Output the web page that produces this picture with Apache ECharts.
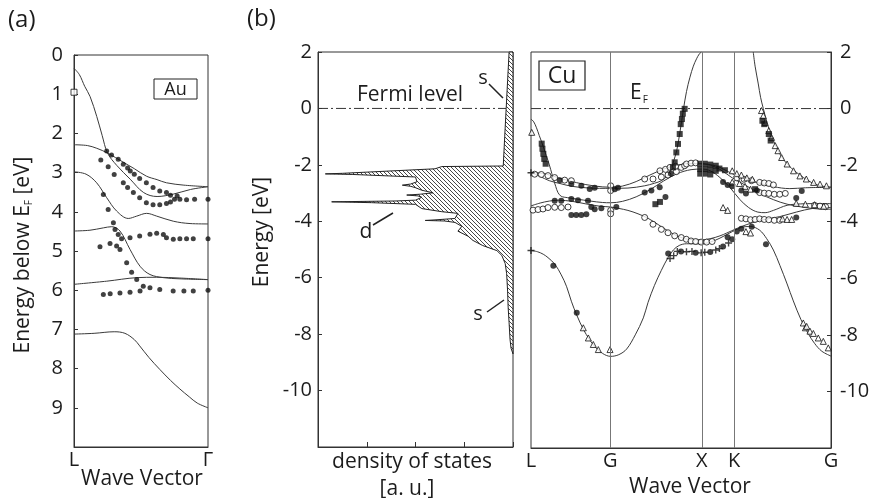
<!DOCTYPE html>
<html><head><meta charset="utf-8">
<script src="https://cdn.jsdelivr.net/npm/echarts@6/dist/echarts.min.js"></script>
<style>html,body{margin:0;padding:0;background:#fff}#c{width:879px;height:498px}</style>
</head><body><div id="c"></div>
<script>
// ---------- (a) Au bands: [wave vector (L=0..Γ=1), energy below EF] ----------
const auBandA = [[0,0.34],[0.04,0.5],[0.08,0.8],[0.12,1.06],[0.17,1.57],[0.21,2.05],[0.25,2.5],[0.32,2.82],[0.42,3.17],[0.52,3.51],[0.62,3.61],[0.74,3.55],[0.87,3.43],[1,3.36]];
const auBandB = [[0,2.29],[0.1,2.31],[0.17,2.38],[0.25,2.5],[0.37,2.74],[0.45,2.9],[0.54,3.09],[0.62,3.18],[0.69,3.26],[0.82,3.32],[1,3.36]];
const auBandC = [[0,2.98],[0.09,3.04],[0.169,3.26],[0.244,3.64],[0.318,3.98],[0.405,4.17],[0.468,4.11],[0.542,4.04],[0.617,4.11],[0.741,4.24],[0.866,4.3],[1,4.31]];
const auBandD = [[0,4.49],[0.119,4.47],[0.219,4.41],[0.281,4.38],[0.343,4.49],[0.418,4.96],[0.493,5.39],[0.567,5.6],[0.667,5.68],[0.791,5.71],[1,5.73]];
const auBandE = [[0,5.85],[0.244,5.77],[0.468,5.68],[0.617,5.67],[0.79,5.69],[1,5.73]];
const auBandF = [[0,7.12],[0.15,7.1],[0.3,7.06],[0.38,7.1],[0.45,7.26],[0.49,7.42],[0.56,7.72],[0.64,8.02],[0.72,8.3],[0.79,8.52],[0.86,8.72],[0.92,8.88],[1,9.0]];
const auDots = [
 [0.244,2.45],[0.28,2.55],[0.33,2.66],[0.368,2.79],[0.4,2.88],[0.42,2.96],[0.45,3.04],[0.49,3.15],[0.54,3.26],[0.59,3.38],[0.64,3.47],[0.69,3.51],[0.72,3.58],[0.77,3.6],[0.79,3.68],[0.84,3.69],[0.9,3.68],[1.0,3.68],
 [0.2,2.68],[0.255,2.85],[0.3,3.05],[0.368,3.26],[0.4,3.38],[0.443,3.51],[0.49,3.64],[0.54,3.77],[0.59,3.82],[0.64,3.82],[0.69,3.79],[0.72,3.75],[0.75,3.68],
 [0.219,3.56],[0.255,3.94],[0.294,4.28],
 [0.306,4.45],[0.33,4.58],[0.355,4.69],[0.418,4.66],[0.49,4.62],[0.567,4.57],[0.617,4.55],[0.667,4.58],[0.69,4.66],[0.741,4.7],[0.79,4.69],[0.84,4.69],[0.89,4.69],[1.0,4.69],
 [0.194,4.89],[0.269,4.81],[0.318,4.87],[0.343,4.96],[0.393,5.3],[0.43,5.54],[0.468,5.73],[0.517,5.9],[0.567,5.94],[0.64,5.98],[0.74,6.02],[0.82,6.02],[0.89,6.02],[1.0,6.0],
 [0.219,6.11],[0.27,6.09],[0.343,6.07],[0.418,6.05],[0.493,6.02]
];
const auOpenSquare = [[0,0.95]];
const auTickLabels = ['L','Γ'];

// ---------- (b) DOS: energy (eV) and density of states (a.u.) ----------
const dosE = [2,1,0,-1,-2.04,-2.06,-2.14,-2.3,-2.32,-2.34,-2.43,-2.6,-2.68,-2.72,-2.76,-2.81,-2.9,-2.99,-3.04,-3.07,-3.1,-3.15,-3.25,-3.28,-3.31,-3.34,-3.4,-3.55,-3.66,-3.72,-3.9,-3.95,-3.97,-3.99,-4.04,-4.18,-4.35,-4.53,-4.68,-4.86,-5.04,-5.21,-5.5,-5.86,-6.5,-7.04,-7.6,-8.2,-8.5,-8.7];
const dosV = [0.08,0.11,0.14,0.17,0.2,1.46,1.6,3.5,3.85,3.3,2.0,1.97,2.1,2.27,2.1,2.0,1.87,1.64,1.9,2.18,1.95,1.87,2.0,2.4,3.72,2.9,2.0,1.87,1.46,1.13,1.19,1.6,1.8,1.4,1.19,1.05,1.13,0.92,0.82,0.62,0.33,0.23,0.16,0.13,0.11,0.1,0.08,0.06,0.04,0.0];
const fermiDos = [[4,0],[0.14,0]];

// ---------- Cu bands: [wave vector (L=0, G=0.866, X=1.866, K=2.22, G=3.28), energy eV] ----------
const cuTickPos = [0,0.866,1.866,2.22,3.28];
const cuTickLabels = ['L','G','X','K','G'];
const cuSymLines = [0.866,1.866,2.22];
const cuBand1 = [[0,-5.02],[0.07,-5.06],[0.134,-5.15],[0.186,-5.27],[0.26,-5.5],[0.331,-5.88],[0.39,-6.3],[0.441,-6.81],[0.5,-7.3],[0.58,-7.85],[0.681,-8.35],[0.78,-8.65],[0.871,-8.76],[0.96,-8.7],[1.046,-8.5],[1.14,-8.0],[1.228,-7.4],[1.28,-6.85],[1.35,-6.25],[1.425,-5.72],[1.498,-5.27],[1.556,-5.0],[1.62,-4.84],[1.7,-4.78],[1.862,-4.78],[1.96,-4.72],[2.066,-4.58],[2.2,-4.35],[2.3,-4.2],[2.4,-4.17],[2.5,-4.3],[2.577,-4.6],[2.65,-5.0],[2.722,-5.55],[2.8,-6.2],[2.868,-6.8],[2.95,-7.45],[3.03,-7.95],[3.1,-8.3],[3.18,-8.58],[3.28,-8.75]];
const cuBand2 = [[0,-3.44],[0.1,-3.34],[0.2,-3.27],[0.3,-3.24],[0.45,-3.28],[0.6,-3.37],[0.75,-3.45],[0.871,-3.48],[0.96,-3.53],[1.06,-3.6],[1.17,-3.72],[1.28,-3.88],[1.39,-4.1],[1.5,-4.33],[1.61,-4.52],[1.716,-4.62],[1.862,-4.64],[1.96,-4.6],[2.066,-4.5],[2.14,-4.4],[2.25,-4.24],[2.36,-4.1],[2.54,-3.93],[2.72,-3.82],[2.9,-3.66],[3.08,-3.53],[3.28,-3.5]];
const cuBand3 = [[0,-0.37],[0.03,-0.47],[0.06,-0.68],[0.09,-0.95],[0.113,-1.15],[0.15,-1.5],[0.186,-1.84],[0.215,-2.15],[0.24,-2.44],[0.27,-2.75],[0.295,-2.97],[0.33,-3.1],[0.4,-3.15],[0.5,-3.2],[0.65,-3.27],[0.78,-3.32],[0.871,-3.33],[1.0,-3.28],[1.15,-3.12],[1.3,-2.87],[1.45,-2.56],[1.6,-2.3],[1.75,-2.16],[1.862,-2.14],[1.96,-2.2],[2.066,-2.44],[2.175,-2.79],[2.285,-3.22],[2.38,-3.5],[2.48,-3.66],[2.56,-3.68],[2.65,-3.6],[2.8,-3.42],[2.95,-3.37],[3.1,-3.36],[3.28,-3.36]];
const cuBand4 = [[0,-2.26],[0.15,-2.3],[0.3,-2.45],[0.5,-2.62],[0.7,-2.74],[0.871,-2.78],[1.0,-2.74],[1.15,-2.58],[1.3,-2.35],[1.45,-2.14],[1.6,-2.0],[1.75,-1.95],[1.862,-1.95],[1.96,-1.98],[2.066,-2.08],[2.25,-2.38],[2.47,-2.61],[2.65,-2.76],[2.83,-2.83],[3.0,-2.8],[3.28,-2.78]];
const cuBand5 = [[0,-2.26],[0.1,-2.4],[0.2,-2.55],[0.317,-2.65],[0.45,-2.75],[0.6,-2.8],[0.75,-2.82],[0.871,-2.82],[1.06,-2.81],[1.243,-2.73],[1.35,-2.64],[1.425,-2.55],[1.49,-2.38],[1.53,-2.15],[1.565,-1.8],[1.593,-1.49],[1.63,-0.8],[1.665,-0.06],[1.7,0.6],[1.738,1.11],[1.775,1.5],[1.81,1.76],[1.84,1.93],[1.862,2.0]];
const cuBand6 = [[1.862,-1.95],[1.96,-2.0],[2.066,-2.15],[2.2,-2.45],[2.35,-2.72],[2.5,-3.0],[2.65,-3.22],[2.8,-3.38],[3.0,-3.5],[3.15,-3.55],[3.28,-3.56]];
const cuBand7 = [[2.43,2.0],[2.45,1.5],[2.485,0.87],[2.51,0.4],[2.54,0.0],[2.59,-0.6],[2.65,-1.13],[2.72,-1.6],[2.8,-1.96],[2.9,-2.25],[2.98,-2.44],[3.07,-2.62],[3.16,-2.73],[3.28,-2.78]];
const cuFermi = [[0,0],[3.28,0]];

// Cu experimental points
const cuSquares = [[0.117,-1.24],[0.125,-1.42],[0.135,-1.6],[0.145,-1.78],[0.16,-1.95],
 [1.552,-2.08],[1.571,-1.9],[1.589,-1.55],[1.607,-1.25],[1.626,-0.9],[1.637,-0.55],[1.65,-0.37],[1.66,-0.18],[1.68,-0.01],
 [1.85,-1.95],[1.9,-1.95],[1.96,-1.98],[2.02,-2.02],[1.85,-2.14],[1.9,-2.14],[1.96,-2.16],[2.02,-2.2],[1.85,-2.3],[1.9,-2.3],[1.96,-2.33],[2.06,-2.12],[2.12,-2.18],
 [2.53,-0.43],[2.55,-0.55],[2.6,-0.9],[2.62,-1.13],[2.45,-2.85],[1.36,-3.38],[1.41,-3.3]];
const cuTriangles = [[0.008,-0.84],
 [2.52,-0.07],[2.54,-0.25],[2.56,-0.49],[2.6,-0.78],[2.63,-1.02],[2.67,-1.31],[2.7,-1.49],[2.74,-1.73],[2.8,-1.96],[2.87,-2.2],[2.94,-2.38],[3.01,-2.49],[3.09,-2.61],[3.16,-2.67],[3.23,-2.73],
 [0.572,-7.75],[0.627,-8.11],[0.681,-8.34],[0.736,-8.52],[0.864,-8.52],
 [2.977,-7.58],[3.0,-7.75],[3.014,-7.7],[3.05,-7.87],[3.087,-7.95],[3.141,-8.11],[3.196,-8.23],[3.25,-8.46],
 [2.2,-2.2],[2.25,-2.3],[2.3,-2.35],[2.36,-2.45],[2.42,-2.5],[2.2,-2.6],[2.28,-2.65],[2.34,-2.75],[2.4,-2.85],[2.1,-3.5],[2.15,-3.6],
 [2.9,-3.35],[3.0,-3.38],[3.1,-3.4],[3.2,-3.45],[2.75,-3.9],[2.8,-3.92],[2.85,-3.92],[2.35,-4.35],[2.4,-4.4]];
const cuOpenCircles = [[0.04,-2.32],[0.113,-2.33],[0.186,-2.37],[0.259,-2.44],[0.368,-2.53],[0.441,-2.55],
 [0.871,-2.73],[0.871,-2.9],
 [0.022,-3.59],[0.077,-3.57],[0.131,-3.55],[0.186,-3.5],[0.259,-3.49],[0.331,-3.5],[0.405,-3.48],
 [0.871,-3.6],[0.871,-3.72],
 [1.243,-2.49],[1.334,-2.49],[1.425,-2.42],[1.498,-2.35],[1.589,-2.23],[1.643,-2.08],[1.68,-2.02],
 [1.243,-3.85],[1.334,-4.09],[1.425,-4.27],[1.498,-4.39],[1.571,-4.5],[1.643,-4.56],[1.698,-4.62],
 [1.41,-2.2],[1.47,-2.15],[1.52,-2.08],[1.58,-2.04],[1.7,-1.96],[1.75,-1.93],[1.8,-1.92],
 [1.75,-4.68],[1.8,-4.7],[1.86,-4.72],[1.92,-4.72],[1.98,-4.7],
 [2.25,-2.45],[2.33,-2.5],[2.41,-2.55],[2.5,-2.61],[2.55,-2.63],[2.6,-2.65],[2.65,-2.7],
 [2.5,-2.97],[2.55,-2.99],[2.6,-3.0],[2.66,-3.03],[2.72,-3.03],[2.78,-3.0],
 [2.3,-3.88],[2.35,-3.9],[2.4,-3.93],[2.45,-3.92],[2.5,-3.9],[2.55,-3.92],[2.6,-3.93],[2.66,-3.95],[2.72,-3.95],
 [3.1,-3.42],[3.16,-3.45],[3.22,-3.47]];
const cuFilledCircles = [[0.314,-2.53],[0.441,-2.67],[0.55,-2.73],[0.642,-2.84],[0.696,-2.8],[0.915,-2.85],[0.951,-2.8],
 [0.259,-3.26],[0.331,-3.26],[0.441,-3.2],[0.514,-3.24],[0.623,-3.26],[0.659,-3.48],[0.696,-3.56],[0.769,-3.52],[0.933,-3.48],
 [0.441,-3.76],[0.495,-3.76],[0.55,-3.76],[0.605,-3.74],
 [1.243,-2.97],[1.316,-2.9],[1.407,-2.78],[1.47,-3.13],[1.53,-2.3],
 [0.244,-5.56],[0.5,-7.22],
 [1.5,-5.12],[1.64,-5.05],[1.8,-5.1],[1.96,-5.07],[2.1,-4.88],[2.2,-4.62],
 [2.15,-4.55],[2.25,-4.35],[2.3,-4.25],[2.413,-4.18],[2.569,-4.8],
 [2.47,-2.9],[2.96,-2.91],[2.9,-3.16],[2.9,-3.85],[2.1,-2.6],[2.15,-2.7],[2.2,-2.75],[2.3,-2.9],[2.35,-3.0]];
const cuCrosses = [[0,-2.27],[0,-5.02],[1.52,-5.3],[1.56,-5.2],[1.6,-5.05],[1.7,-5.06],[1.76,-5.05],[1.86,-5.1],[1.9,-5.08],[2.02,-5.0],[2.06,-4.95],[2.16,-4.75]];

// ---------- build ----------
const FONT = 'Open Sans';
const INK = '#1c1c1c';
const LINE = '#3a3a3a';

function hatchCanvas(){
  const c = document.createElement('canvas'); c.width = 4; c.height = 4;
  const g = c.getContext('2d');
  g.fillStyle = '#fff'; g.fillRect(0,0,4,4);
  g.strokeStyle = '#474747'; g.lineWidth = 1;
  g.beginPath();
  g.moveTo(0,0); g.lineTo(4,4);
  g.moveTo(-1,3); g.lineTo(1,5);
  g.moveTo(3,-1); g.lineTo(5,1);
  g.stroke();
  return c;
}
const hatch = hatchCanvas();

function band(data, gi){
  return {type:'line', xAxisIndex:gi, yAxisIndex:gi, data, showSymbol:false, smooth:0.35,
    lineStyle:{color:LINE, width:1}, silent:true, z:2};
}
function pts(data, gi, symbol, size, filled){
  return {type:'scatter', xAxisIndex:gi, yAxisIndex:gi, data, symbol, symbolSize:size, silent:true, z:4,
    itemStyle: filled ? {color:'#111'} : {color:'#fff', borderColor:'#111', borderWidth:1}};
}
// dash-dot reference line through two data points
function dashDot(data, gi){
  return {type:'custom', xAxisIndex:gi, yAxisIndex:gi, data:[[0,0]], silent:true, z:1,
    renderItem:(params, api)=>{
      if (params.dataIndex !== 0) return;
      const a = api.coord(data[0]), b = api.coord(data[1]);
      return {type:'line', shape:{x1:a[0], y1:a[1], x2:b[0], y2:b[1]},
        style:{stroke:'#333', lineWidth:1, lineDash:[10,3,2,3]}};
    }};
}
const axisLabelStyle = {fontFamily:FONT, fontSize:20, color:INK};
const T = 21;
const axLine = {onZero:false, lineStyle:{color:'#333'}};

const series = [];
[auBandA,auBandB,auBandC,auBandD,auBandE,auBandF].forEach(b=>series.push(band(b,0)));
series.push(pts(auDots,0,'circle',5,true));
series.push(pts(auOpenSquare,0,'rect',6,false));

series.push({type:'custom', xAxisIndex:1, yAxisIndex:1, data:[[0,0]], silent:true, z:2,
  renderItem:(params, api)=>{
    if (params.dataIndex !== 0) return;
    const p = [];
    for (let i=0;i<dosE.length;i++) p.push(api.coord([dosV[i], dosE[i]]));
    p.push(api.coord([0, dosE[dosE.length-1]]));
    p.push(api.coord([0, dosE[0]]));
    return {type:'polygon', shape:{points:p}, style:{fill:{image:hatch, repeat:'repeat'}, stroke:'#222', lineWidth:1}};
  }});
series.push(dashDot(fermiDos,1));

series.push(dashDot(cuFermi,2));
series.push({type:'line', xAxisIndex:2, yAxisIndex:2, data:[], showSymbol:false, silent:true, z:1,
  markLine:{silent:true, symbol:['none','none'], label:{show:false}, animation:false,
    lineStyle:{color:'#777', width:1, type:'solid'},
    data: cuSymLines.map(v=>({xAxis:v}))}});
[cuBand1,cuBand2,cuBand3,cuBand4,cuBand5,cuBand6,cuBand7].forEach(b=>series.push(band(b,2)));
series.push(pts(cuOpenCircles,2,'circle',6,false));
series.push(pts(cuTriangles,2,'triangle',6,false));
series.push(pts(cuFilledCircles,2,'circle',6,true));
series.push(pts(cuSquares,2,'rect',6,true));
series.push(pts(cuCrosses,2,'path://M4,0H6V4H10V6H6V10H4V6H0V4H4Z',7,true));

const gridBase = {show:true, borderColor:'#333', borderWidth:1, containLabel:false};
const option = {
  animation:false,
  backgroundColor:'#fff',
  grid:[
    Object.assign({left:74, top:55, width:134, height:392}, gridBase),
    Object.assign({left:318, top:52, width:195, height:395}, gridBase),
    Object.assign({left:531, top:52, width:300, height:396}, gridBase)
  ],
  xAxis:[
    {type:'value', gridIndex:0, min:0, max:1, interval:1,
     axisLine:axLine, axisTick:{show:false}, splitLine:{show:false},
     axisLabel:Object.assign({margin:3, formatter:v=>auTickLabels[Math.round(v)]}, axisLabelStyle)},
    {type:'value', gridIndex:1, min:0, max:4, interval:1, inverse:true,
     axisLine:axLine, axisTick:{inside:true, length:5, lineStyle:{color:'#333'}},
     splitLine:{show:false}, axisLabel:{show:false}},
    {type:'value', gridIndex:2, min:0, max:3.28,
     axisLine:axLine, axisTick:{show:false}, splitLine:{show:false},
     axisLabel:Object.assign({margin:3, customValues:cuTickPos,
       formatter:v=>{let i=0,b=1e9;cuTickPos.forEach((t,j)=>{if(Math.abs(t-v)<b){b=Math.abs(t-v);i=j;}});return cuTickLabels[i];}}, axisLabelStyle)}
  ],
  yAxis:[
    {type:'value', gridIndex:0, min:0, max:10, interval:1, inverse:true,
     axisLine:axLine, axisTick:{inside:true, length:4, lineStyle:{color:'#333'}},
     splitLine:{show:false}, axisLabel:Object.assign({margin:11, showMaxLabel:false}, axisLabelStyle)},
    {type:'value', gridIndex:1, min:-12, max:2, interval:2,
     axisLine:axLine, axisTick:{inside:true, length:4, lineStyle:{color:'#333'}},
     splitLine:{show:false}, axisLabel:Object.assign({margin:6, showMinLabel:false}, axisLabelStyle)},
    {type:'value', gridIndex:2, position:'right', min:-12, max:2, interval:2,
     axisLine:axLine, axisTick:{inside:true, length:4, lineStyle:{color:'#333'}},
     splitLine:{show:false}, axisLabel:Object.assign({margin:9, showMinLabel:false}, axisLabelStyle)}
  ],
  series,
  graphic:[
    {type:'text', x:8, y:20, style:{text:'(a)', fontFamily:FONT, fontSize:24, fill:INK, align:'left', verticalAlign:'middle'}},
    {type:'text', x:247, y:19, style:{text:'(b)', fontFamily:FONT, fontSize:24, fill:INK, align:'left', verticalAlign:'middle'}},
    {type:'text', x:23, y:255, rotation:Math.PI/2, style:{text:'Energy below E{sub|F} [eV]', fontFamily:FONT, fontSize:T, fill:INK, align:'center', verticalAlign:'middle',
       rich:{sub:{fontFamily:FONT, fontSize:10, fill:INK, padding:[12,0,0,0]}}}},
    {type:'text', x:262, y:232, rotation:Math.PI/2, style:{text:'Energy [eV]', fontFamily:FONT, fontSize:T, fill:INK, align:'center', verticalAlign:'middle'}},
    {type:'text', x:142, y:479, style:{text:'Wave Vector', fontFamily:FONT, fontSize:T, fill:INK, align:'center', verticalAlign:'middle'}},
    {type:'text', x:690, y:487, style:{text:'Wave Vector', fontFamily:FONT, fontSize:T, fill:INK, align:'center', verticalAlign:'middle'}},
    {type:'text', x:412, y:462, style:{text:'density of states', fontFamily:FONT, fontSize:T, fill:INK, align:'center', verticalAlign:'middle'}},
    {type:'text', x:407, y:489, style:{text:'[a. u.]', fontFamily:FONT, fontSize:T, fill:INK, align:'center', verticalAlign:'middle'}},
    {type:'text', x:410, y:95, style:{text:'Fermi level', fontFamily:FONT, fontSize:T, fill:INK, align:'center', verticalAlign:'middle'}},
    {type:'text', x:483, y:78, style:{text:'s', fontFamily:FONT, fontSize:20, fill:INK, align:'center', verticalAlign:'middle'}},
    {type:'line', shape:{x1:489,y1:84,x2:503,y2:98}, style:{stroke:'#222', lineWidth:1.5}},
    {type:'text', x:478, y:314, style:{text:'s', fontFamily:FONT, fontSize:20, fill:INK, align:'center', verticalAlign:'middle'}},
    {type:'line', shape:{x1:487,y1:312,x2:504,y2:300}, style:{stroke:'#222', lineWidth:1.5}},
    {type:'text', x:366, y:232, style:{text:'d', fontFamily:FONT, fontSize:21, fill:INK, align:'center', verticalAlign:'middle'}},
    {type:'line', shape:{x1:373,y1:225,x2:393,y2:213}, style:{stroke:'#222', lineWidth:1.5}},
    {type:'rect', shape:{x:154,y:79,width:43,height:20}, style:{fill:'#fff', stroke:'#222', lineWidth:1}, z:10},
    {type:'text', x:175.5, y:89.5, z:11, style:{text:'Au', fontFamily:FONT, fontSize:18, fill:INK, align:'center', verticalAlign:'middle'}},
    {type:'rect', shape:{x:539,y:61,width:46,height:29}, style:{fill:'#fff', stroke:'#222', lineWidth:1.2}, z:10},
    {type:'text', x:562, y:76, z:11, style:{text:'Cu', fontFamily:FONT, fontSize:23, fill:INK, align:'center', verticalAlign:'middle'}},
    {type:'text', x:630, y:93, z:11, style:{text:'E{sub|F}', fontFamily:FONT, fontSize:21, fill:INK, align:'left', verticalAlign:'middle',
       rich:{sub:{fontFamily:FONT, fontSize:10, fill:INK, padding:[14,0,0,1]}}}}
  ]
};
const chart = echarts.init(document.getElementById('c'), null, {renderer:'canvas'});
chart.setOption(option);
</script></body></html>
